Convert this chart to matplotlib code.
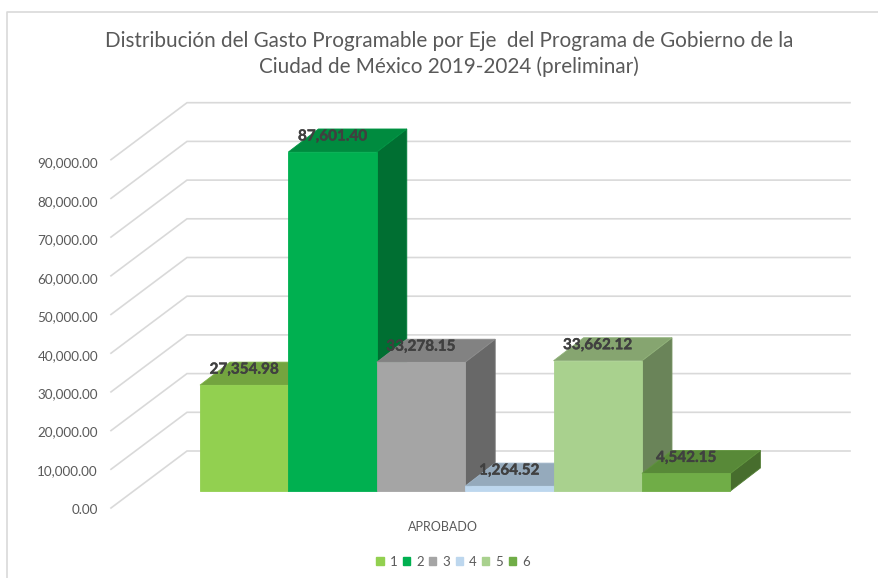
"""Distribucion del gasto programable por eje, fake-3D column chart."""

import matplotlib

matplotlib.use("Agg")
import matplotlib.pyplot as plt
import matplotlib.patheffects as pe
from matplotlib.colors import to_rgb
from matplotlib.lines import Line2D
from matplotlib.patches import Patch, Polygon

WIDTH = 879
HEIGHT = 578

series_names = ["1", "2", "3", "4", "5", "6"]
values = [27354.98, 87601.40, 33278.15, 1264.52, 33662.12, 4542.15]
value_labels = ["27,354.98", "87,601.40", "33,278.15", "1,264.52", "33,662.12", "4,542.15"]
colors = ["#92D050", "#00B050", "#A5A5A5", "#BDD7EE", "#A9D18E", "#70AD47"]
y_ticks = list(range(0, 100000, 10000))
category = "APROBADO"
title = (
    "Distribución del Gasto Programable por Eje  del Programa de Gobierno de la\n"
    "Ciudad de México 2019-2024 (preliminar)"
)

# scale: pixels per bar and per value unit
BAR_PX = 88.4
VALUE_PX = 38.7 / 10000
X0_PX = 200
Y0_PX = 491

TEXT = "#595959"
GRID = "#D9D9D9"


def px_x(px):
    return (px - X0_PX) / BAR_PX


def px_h(px):
    return px / VALUE_PX


def shade(color, factor):
    return tuple(c * factor for c in to_rgb(color))


def draw_bar(ax, left, value, color):
    right = left + 1
    dx = px_x(X0_PX + 30)
    dy = px_h(23)
    style = {"linewidth": 0.6, "joinstyle": "miter"}
    ax.add_patch(Polygon(
        [(right, 0), (right + dx, dy), (right + dx, value + dy), (right, value)],
        facecolor=shade(color, 0.63), edgecolor=shade(color, 0.72), **style,
    ))
    ax.add_patch(Polygon(
        [(left, value), (right, value), (right + dx, value + dy), (left + dx, value + dy)],
        facecolor=shade(color, 0.79), edgecolor=shade(color, 0.85), **style,
    ))
    ax.add_patch(Polygon(
        [(left, 0), (right, 0), (right, value), (left, value)],
        facecolor=color, edgecolor=color, **style,
    ))


def main():
    plt.rcParams["font.family"] = ["Lato", "DejaVu Sans"]
    fig = plt.figure(figsize=(WIDTH / 100, HEIGHT / 100), dpi=100)
    ax = fig.add_axes([0, 0, 1, 1])
    ax.set_xlim(px_x(0), px_x(WIDTH))
    ax.set_ylim(px_h(Y0_PX - HEIGHT), px_h(Y0_PX))
    ax.axis("off")

    # chart frame, only the left and top edges are in the crop
    fig.add_artist(Line2D([7.5 / WIDTH, 7.5 / WIDTH, 1], [0, 1 - 11.5 / HEIGHT, 1 - 11.5 / HEIGHT],
                          color=GRID, linewidth=1.2))

    front_x, back_x, right_x = px_x(111), px_x(187), px_x(850)
    front_y, back_y = px_h(-17), px_h(40)
    for tick in y_ticks:
        ax.plot([front_x, back_x, right_x],
                [tick + front_y, tick + back_y, tick + back_y],
                color=GRID, linewidth=1.2, solid_joinstyle="miter", zorder=1)
        # the labels sit on a slightly tighter pitch than the gridlines
        ax.text(px_x(98), tick * 0.9935 + front_y - px_h(1.5), f"{tick:,.2f}",
                ha="right", va="center", color=TEXT, fontsize=9.7)

    for i, (value, color) in enumerate(zip(values, colors)):
        draw_bar(ax, i, value, color)

    for i, (value, label) in enumerate(zip(values, value_labels)):
        ax.text(i + 0.5, value + px_h(15.5), label, ha="center", va="center",
                color="#404040", fontsize=11, fontweight="bold", zorder=5,
                path_effects=[pe.withStroke(linewidth=0.25, foreground="#404040")])

    ax.text(px_x(443), px_h(Y0_PX - 527), category, ha="center", va="center",
            color=TEXT, fontsize=9)

    fig.text(449 / WIDTH, 1 - 54 / HEIGHT, title, ha="center", va="center",
             color=TEXT, fontsize=14.9, linespacing=1.32)

    handles = [Patch(facecolor=c, edgecolor=c, label=n) for n, c in zip(series_names, colors)]
    fig.legend(handles=handles, loc="center", bbox_to_anchor=(453 / WIDTH, 1 - 562 / HEIGHT),
               ncol=6, frameon=False, fontsize=9.5, labelcolor=TEXT, handlelength=0.55,
               handleheight=0.55, handletextpad=0.45, columnspacing=0.42)

    fig.savefig("out.png", dpi=100)
    plt.close(fig)


if __name__ == "__main__":
    main()
